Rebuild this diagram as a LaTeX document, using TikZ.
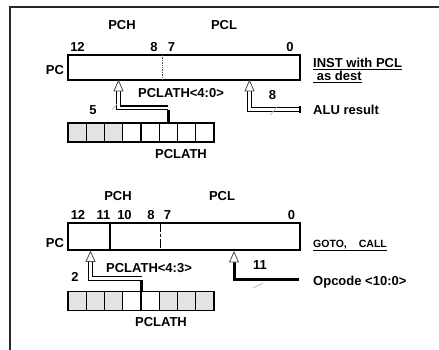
\documentclass[tikz,border=0pt]{standalone}
\usepackage{fontspec}
\setmainfont{Liberation Sans}
\begin{document}
\begin{tikzpicture}[x=1pt,y=-1pt,
  lbl/.style={inner sep=0pt, font=\fontsize{13}{15}\selectfont\bfseries, text height=9.3pt, text depth=0pt},
  reg/.style={draw=black, line width=1.4pt, inner sep=0pt},
  cell/.style={draw=black, line width=1.2pt, inner sep=0pt, minimum width=18.25pt, minimum height=19pt},
  grey/.style={fill=gray!22},
  dbl/.style={draw=black, line width=1.3pt, double=white, double distance=2.4pt},
  busline/.style={draw=black, line width=3pt},
  tipstyle/.style={draw=gray!60!black, fill=white, line width=0.8pt},
  slash/.style={draw=gray!55, line width=0.7pt},
  frame/.style={draw=black!85, line width=1.6pt}]
\useasboundingbox (0,0) rectangle (439,350);
\draw[frame] (10,350) -- (10,7) -- (439,7);

% ---------- top situation ----------
\node[lbl] (pchA) at (122,24.5) {PCH};
\node[lbl] (pclA) at (224,24.5) {PCL};
\node[lbl] (n12A) at (77.5,47) {12};
\node[lbl] (n8A) at (154,47) {8};
\node[lbl] (n7A) at (171.5,47) {7};
\node[lbl] (n0A) at (290,47) {0};
\node[lbl] (pcA) at (55,70) {PC};
\node[reg, minimum width=232pt, minimum height=25pt] (regA) at (184,67.5) {};
\draw[gray!70!black, line width=0.7pt, densely dotted] (162,55) -- (162,80);
\node[lbl, anchor=west] (instA) at (313,63) {\underline{INST with PCL}};
\node[lbl, anchor=west] (destA) at (313,76) {\underline{ as dest}};
\node[lbl] (pclathA) at (181,93) {PCLATH<4:0>};
\node[lbl] (fiveA) at (93,110) {5};
\node[lbl] (eightA) at (272.5,95) {8};
\node[lbl, anchor=west] (aluA) at (313,110) {ALU result};

\foreach \i in {1,...,8} {
  \pgfmathsetmacro{\cx}{68+18.25*(\i-0.5)}
  \ifnum\i<4
    \node[cell, grey] (cA\i) at (\cx,132.5) {};
  \else
    \node[cell] (cA\i) at (\cx,132.5) {};
  \fi
}
\node[lbl] (plA) at (181,153.5) {PCLATH};

% connector PCLATH -> PCH (top)
\coordinate (tA) at (118.5,80.5);
\coordinate (bA) at (118.5,91);
\path (cA6.north) ++(0,-14.5) coordinate (kA);
\draw[dbl] (kA) -| (bA);
\draw[busline] (cA6.north) -- ([yshift=-2pt]kA);
\draw[tipstyle] (tA) -- ++(-4.5,10.5) -- ++(9,0) -- cycle;
\draw[slash] (112,110) -- (117,104);

% connector ALU -> PCL (top)
\coordinate (tB) at (249.5,80.5);
\coordinate (bB) at (249.5,91);
\coordinate (eB) at (300,109.5);
\draw[dbl] (eB) -| (bB);
\draw[black, line width=1.3pt] (300,106.4) -- (300,112.6);
\draw[tipstyle] (tB) -- ++(-4.5,10.5) -- ++(9,0) -- cycle;
\draw[slash] (270,115) -- (278,106);

% ---------- bottom situation ----------
\node[lbl] (pchB) at (118,196) {PCH};
\node[lbl] (pclB) at (222,196) {PCL};
\node[lbl] (n12B) at (78,215) {12};
\node[lbl] (n11B) at (103.5,215) {11};
\node[lbl] (n10B) at (124.5,215) {10};
\node[lbl] (n8B) at (151,215) {8};
\node[lbl] (n7B) at (167.5,215) {7};
\node[lbl] (n0B) at (291.5,215) {0};
\node[lbl] (pcB) at (55,243) {PC};
\node[reg, minimum width=232pt, minimum height=27pt] (regB) at (184,236.5) {};
\draw[black, line width=1.4pt] (110,223) -- (110,250);
\draw[black, line width=1.4pt, dash pattern=on 9pt off 2pt on 3pt off 2pt] (160.5,223) -- (160.5,250);
\node[lbl, anchor=west] (gotoB) at (313,243) {\fontsize{10.5}{12}\selectfont\underline{GOTO,\hspace{12pt}CALL}};
\node[lbl] (pclathB) at (149,268) {PCLATH<4:3>};
\node[lbl] (twoB) at (75,277) {2};
\node[lbl] (elevenB) at (260,264.5) {11};
\node[lbl, anchor=west] (opcB) at (313,281) {Opcode <10:0>};

\foreach \i in {1,...,8} {
  \pgfmathsetmacro{\cx}{68+18.25*(\i-0.5)}
  \ifnum\i=4
    \node[cell] (cB\i) at (\cx,301) {};
  \else\ifnum\i=5
    \node[cell] (cB\i) at (\cx,301) {};
  \else
    \node[cell, grey] (cB\i) at (\cx,301) {};
  \fi\fi
}
\node[lbl] (plB) at (161,322) {PCLATH};

% connector PCLATH<4:3> -> PC (bottom)
\coordinate (tC) at (90.5,251.5);
\coordinate (bC) at (90.5,261);
\path (cB4.north east) ++(0,-12.5) coordinate (kC);
\draw[dbl] (kC) -| (bC);
\draw[busline] (cB4.north east) -- ([yshift=-2pt]kC);
\draw[tipstyle] (tC) -- ++(-4.5,10) -- ++(9,0) -- cycle;

% connector Opcode -> PCL (bottom)
\coordinate (tD) at (234,252);
\coordinate (bD) at (234,261.5);
\coordinate (eD) at (299,279);
\draw[busline] (eD) -| (bD);
\draw[tipstyle] (tD) -- ++(-4.5,10) -- ++(9,0) -- cycle;
\draw[slash] (253,288) -- (263,283);
\end{tikzpicture}
\end{document}
